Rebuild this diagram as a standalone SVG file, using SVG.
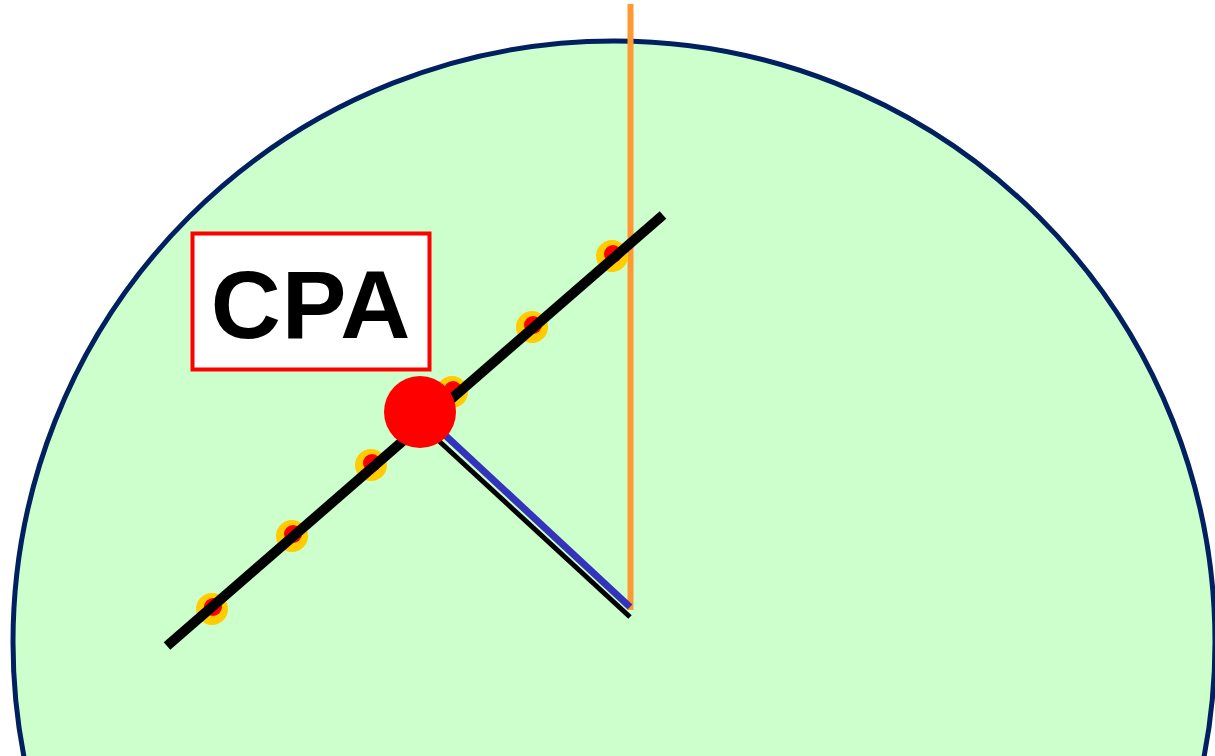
<svg xmlns="http://www.w3.org/2000/svg" width="1215" height="756" viewBox="0 0 1215 756">
<style>
.dot-o{fill:#FFCC00}
.dot-i{fill:#FF0000}
</style>
<rect width="1215" height="756" fill="#FFFFFF"/>
<g id="range-circle">
<circle cx="614" cy="642" r="601" fill="#CCFFCC" stroke="#002060" stroke-width="5"/>
</g>
<g id="connectors">
<line x1="630.5" y1="4" x2="630.5" y2="610" stroke="#FF9933" stroke-width="6"/>
<line x1="427" y1="430" x2="630" y2="617" stroke="#000000" stroke-width="5"/>
<line x1="432" y1="423" x2="630" y2="607" stroke="#3333BB" stroke-width="7"/>
</g>
<g id="track-dots">
<circle class="dot-o" cx="212" cy="609" r="16"/><circle class="dot-i" cx="213" cy="607" r="9"/>
<circle class="dot-o" cx="292" cy="536" r="16"/><circle class="dot-i" cx="293" cy="534" r="9"/>
<circle class="dot-o" cx="371" cy="465" r="16"/><circle class="dot-i" cx="372" cy="463" r="9"/>
<circle class="dot-o" cx="452" cy="392" r="16"/><circle class="dot-i" cx="453" cy="390" r="9"/>
<circle class="dot-o" cx="532" cy="327" r="16"/><circle class="dot-i" cx="533" cy="325" r="9"/>
<circle class="dot-o" cx="612" cy="256" r="16"/><circle class="dot-i" cx="613" cy="254" r="9"/>
</g>
<g id="track-line">
<line x1="167" y1="646" x2="663" y2="215" stroke="#000000" stroke-width="10"/>
</g>
<g id="cpa-point">
<circle cx="420" cy="412" r="36" fill="#FF0000"/>
</g>
<g id="cpa-label">
<rect x="192.5" y="233.5" width="237" height="136" fill="#FFFFFF" stroke="#FF0000" stroke-width="4"/>
<text x="311" y="338" text-anchor="middle" font-family="Liberation Sans, Arial, sans-serif" font-weight="bold" font-size="97" letter-spacing="1" fill="#000000">CPA</text>
</g>
</svg>
